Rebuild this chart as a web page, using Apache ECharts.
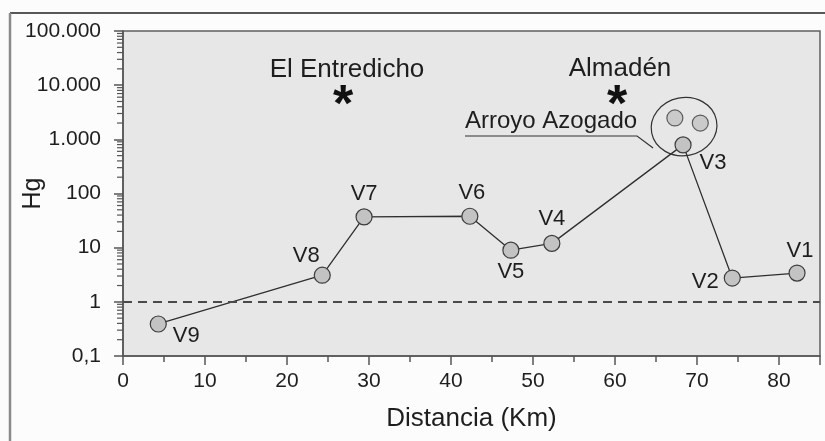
<!DOCTYPE html>
<html><head><meta charset="utf-8">
<script src="https://cdn.jsdelivr.net/npm/echarts@6/dist/echarts.min.js"></script>
<style>html,body{margin:0;padding:0;background:#fcfcfc;} #c{width:825px;height:441px;}</style>
</head><body><div id="c"></div>
<script>
// ---- data ----
const sites = ['V9', 'V8', 'V7', 'V6', 'V5', 'V4', 'V3', 'V2', 'V1'];
const distanceKm = [4.3, 24.3, 29.4, 42.3, 47.3, 52.3, 68.3, 74.3, 82.2];
const hgValues = [0.39, 3.1, 37, 38, 9, 12, 790, 2.75, 3.4];
const azogadoKm = [67.3, 70.4];
const azogadoHg = [2480, 2000];
const yTickValues = [0.1, 1, 10, 100, 1000, 10000, 100000];
const yTickLabels = ['0,1', '1', '10', '100', '1.000', '10.000', '100.000'];
const xTickLabels = ['0', '10', '20', '30', '40', '50', '60', '70', '80'];
const thresholdHg = 1;

// ---- styling ----
const FONT = 'Liberation Sans, Arial, sans-serif';
const TXT = '#1e1e1e';
const labelOffsets = {
  V9: [28, 12], V8: [-16, -19], V7: [0, -23], V6: [2, -23], V5: [0, 22],
  V4: [0, -24], V3: [30, 18], V2: [-27, 4], V1: [3, -22]
};
const symbolStyle = { color: '#c3c3c3', borderColor: '#3c3c3c', borderWidth: 1.2 };

// minor log ticks positions (axis decoration)
const minorTicks = [];
for (let k = -1; k < 5; k++) for (let m = 2; m <= 9; m++) minorTicks.push(m * Math.pow(10, k));

const chart = echarts.init(document.getElementById('c'), null, { renderer: 'canvas' });

const option = {
  backgroundColor: '#fcfcfc',
  animation: false,
  grid: {
    left: 123, right: 5, top: 31, bottom: 85,
    show: true, backgroundColor: '#e7e7e7', borderColor: '#606060', borderWidth: 1.5,
    containLabel: false, outerBoundsMode: 'none'
  },
  xAxis: {
    type: 'value', min: 0, max: 85, interval: 10,
    name: 'Distancia (Km)', nameLocation: 'middle', nameGap: 50, nameMoveOverlap: false,
    nameTextStyle: { fontSize: 26, color: TXT, fontFamily: FONT },
    axisLine: { show: true, onZero: false, lineStyle: { color: '#555', width: 1.5 } },
    axisTick: { show: true, inside: false, length: 9, lineStyle: { color: '#555', width: 1.5 } },
    minorTick: { show: true, splitNumber: 2, length: 6, lineStyle: { color: '#555', width: 1.5 } },
    axisLabel: {
      fontSize: 21, color: TXT, fontFamily: FONT, margin: 15, showMaxLabel: false,
      formatter: v => (v % 10 === 0 && v <= 80) ? xTickLabels[v / 10] : ''
    },
    splitLine: { show: false }
  },
  yAxis: {
    type: 'log', logBase: 10, min: 0.1, max: 100000, splitNumber: 6,
    name: 'Hg', nameLocation: 'middle', nameGap: 77, nameRotate: 90, nameMoveOverlap: false,
    nameTextStyle: { fontSize: 25, color: TXT, fontFamily: FONT },
    axisLine: { show: true, lineStyle: { color: '#555', width: 1.5 } },
    axisTick: { show: true, inside: false, length: 9, lineStyle: { color: '#555', width: 1.5 } },
    axisLabel: {
      fontSize: 21, color: TXT, fontFamily: FONT, margin: 22,
      formatter: v => {
        const i = yTickValues.findIndex(t => Math.abs(Math.log10(t) - Math.log10(v)) < 1e-6);
        return i >= 0 ? yTickLabels[i] : '';
      }
    },
    splitLine: { show: false }
  },
  series: [
    {
      type: 'custom', silent: true, clip: false, z: 5,
      data: minorTicks.map(v => [0, v]),
      renderItem: (params, api) => {
        const p = api.coord([0, api.value(1)]);
        return { type: 'line', shape: { x1: p[0] - 6, y1: p[1], x2: p[0], y2: p[1] },
                 style: { stroke: '#555', lineWidth: 1.2 } };
      }
    },
    {
      type: 'line', z: 3,
      data: distanceKm.map((d, i) => ({
        value: [d, hgValues[i]], name: sites[i],
        label: { offset: labelOffsets[sites[i]] }
      })),
      lineStyle: { color: '#2f2f2f', width: 1.3 },
      symbol: 'circle', symbolSize: 16,
      itemStyle: symbolStyle,
      label: {
        show: true, position: 'inside', formatter: '{b}',
        fontSize: 22, color: TXT, fontFamily: FONT
      },
      markLine: {
        silent: true, symbol: ['none', 'none'], label: { show: false },
        lineStyle: { color: '#4a4a4a', width: 2, type: [9, 6] },
        data: [{ yAxis: thresholdHg }]
      }
    },
    {
      type: 'scatter', z: 4,
      data: azogadoKm.map((d, i) => [d, azogadoHg[i]]),
      symbol: 'circle', symbolSize: 16, itemStyle: symbolStyle
    }
  ]
};
chart.setOption(option);

// annotations anchored to the pixel positions of the data
const v3px = chart.convertToPixel({ gridIndex: 0 }, [distanceKm[6], hgValues[6]]);
const a1 = chart.convertToPixel({ gridIndex: 0 }, [azogadoKm[0], azogadoHg[0]]);
const a2 = chart.convertToPixel({ gridIndex: 0 }, [azogadoKm[1], azogadoHg[1]]);
const cx = (v3px[0] + a1[0] + a2[0]) / 3 - 2;
const cy = (v3px[1] + a1[1] + a2[1]) / 3 - 2;

chart.setOption({
  graphic: [
    { type: 'line', shape: { x1: 10, y1: 13, x2: 825, y2: 13 }, style: { stroke: '#222', lineWidth: 1.5 }, silent: true },
    { type: 'line', shape: { x1: 10, y1: 13, x2: 10, y2: 441 }, style: { stroke: '#8a8a8a', lineWidth: 2.5 }, silent: true },
    { type: 'text', x: 347, y: 70, style: { text: 'El Entredicho', fontSize: 26, fontFamily: FONT, fill: TXT, align: 'center', verticalAlign: 'middle' }, z: 10 },
    { type: 'text', x: 343, y: 107, style: { text: '*', fontSize: 52, fontWeight: 'bold', fontFamily: FONT, fill: '#111', align: 'center', verticalAlign: 'middle' }, z: 10 },
    { type: 'text', x: 620, y: 69, style: { text: 'Almadén', fontSize: 26, fontFamily: FONT, fill: TXT, align: 'center', verticalAlign: 'middle' }, z: 10 },
    { type: 'text', x: 617, y: 107, style: { text: '*', fontSize: 52, fontWeight: 'bold', fontFamily: FONT, fill: '#111', align: 'center', verticalAlign: 'middle' }, z: 10 },
    { type: 'text', x: 465, y: 121, style: { text: 'Arroyo Azogado', fontSize: 24, fontFamily: FONT, fill: TXT, align: 'left', verticalAlign: 'middle' }, z: 10 },
    { type: 'polyline', shape: { points: [[465, 136], [cx - 47, 136], [cx - 31, 148]] }, style: { stroke: '#333', lineWidth: 1.2, fill: null }, z: 10 },
    { type: 'ellipse', x: cx, y: cy, rotation: 0.2, shape: { cx: 0, cy: 0, rx: 33, ry: 29 }, style: { stroke: '#333', lineWidth: 1.2, fill: null }, z: 10 }
  ]
});
</script>
</body></html>
